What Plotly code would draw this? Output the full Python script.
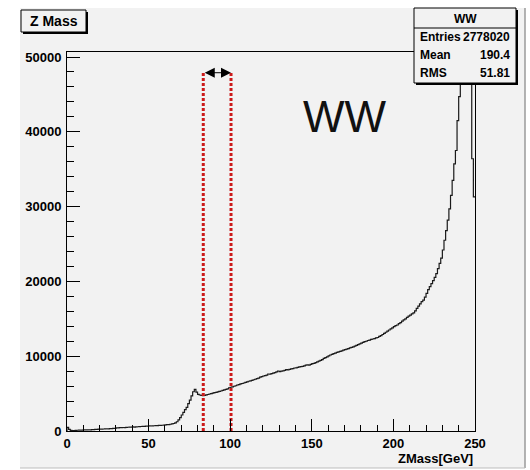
import numpy as np
import plotly.graph_objects as go

# ---------------- data ----------------
bin_width = 1.0  # GeV, histogram 0..250
counts = [
    480, 210, 80, 60, 70, 90, 100, 110, 120, 130,
    140, 150, 150, 170, 160, 180, 190, 230, 220, 240,
    250, 260, 270, 280, 300, 290, 320, 330, 350, 340,
    430, 420, 440, 450, 470, 460, 490, 500, 510, 520,
    540, 530, 560, 570, 590, 600, 610, 630, 640, 660,
    680, 670, 690, 700, 710, 720, 740, 750, 770, 790,
    820, 840, 860, 900, 940, 1000, 1080, 1240, 1500, 1800,
    2140, 2500, 2850, 3170, 3650, 4140, 4700, 5250, 5570, 5200,
    4900, 4810, 4750, 4720, 4760, 4820, 4880, 4950, 4990, 5060,
    5120, 5160, 5230, 5300, 5350, 5420, 5500, 5560, 5630, 5780,
    5850, 5900, 5980, 6050, 6150, 6200, 6300, 6350, 6420, 6500,
    6580, 6650, 6700, 6780, 6850, 6920, 7000, 7080, 7200, 7260,
    7350, 7400, 7480, 7620, 7600, 7680, 7750, 7800, 7900, 8020,
    7950, 8000, 8050, 8100, 8200, 8180, 8250, 8300, 8350, 8420,
    8450, 8500, 8560, 8600, 8650, 8720, 8800, 8850, 8820, 8900,
    9000, 9050, 9150, 9250, 9350, 9450, 9550, 9700, 9800, 9900,
    10050, 10160, 10250, 10350, 10400, 10500, 10580, 10650, 10700, 10800,
    10880, 10950, 11000, 11100, 11180, 11250, 11350, 11450, 11550, 11650,
    11750, 11850, 11940, 12000, 12100, 12150, 12250, 12300, 12350, 12450,
    12500, 12650, 12750, 12900, 13050, 13200, 13350, 13500, 13650, 13800,
    13950, 14100, 14170, 14350, 14500, 14700, 14850, 15000, 15200, 15350,
    15500, 15650, 15800, 16050, 16400, 16700, 17000, 17300, 17500, 17900,
    18400, 18900, 19300, 19700, 20100, 20550, 21050, 21700, 22400, 23100,
    24200, 25500, 26800, 28200, 29700, 31500, 33500, 35700, 37500, 41500,
    44700, 48500, 55000, 60000, 64000, 63000, 58000, 50000, 36400, 31300,
]
x_range = [0, 250]
y_range = [0, 50670]
x_ticks = [0, 50, 100, 150, 200, 250]
y_ticks = [0, 10000, 20000, 30000, 40000, 50000]

cut_low = 83.5
cut_high = 100.5
cut_top = 47900

title_text = "Z Mass"
x_title = "ZMass[GeV]"
label_text = "WW"
stats_name = "WW"
stats_rows = [("Entries", "2778020"), ("Mean", "190.4"), ("RMS", "51.81")]

# ---------------- geometry helpers ----------------
W, H = 530, 470
L, R, T, B = 67, 55, 52, 39
PW, PH = W - L - R, H - T - B


def px(xp):
    return (xp - L) / PW


def py(yp):
    return (H - B - yp) / PH


FONT = "Liberation Sans, Arial, sans-serif"
BG = "#f2f2f2"


def bfont(size):
    return dict(family=FONT, size=size, color="black", weight="bold")


edges = np.arange(len(counts) + 1) * bin_width
xs = [edges[0]] + list(edges)
ys = [0] + list(counts) + [counts[-1]]

fig = go.Figure()
fig.add_trace(go.Scatter(x=xs, y=ys, mode="lines", line=dict(color="#1a1a1a", width=1.2, shape="hv"),
                         hoverinfo="skip", showlegend=False))

for cx in (cut_low, cut_high):
    fig.add_trace(go.Scatter(x=[cx, cx], y=[0, cut_top], mode="lines",
                             line=dict(color="#cc1a1a", width=3, dash="3px,2px"),
                             hoverinfo="skip", showlegend=False))

shapes = []
# canvas pad
shapes.append(dict(type="rect", xref="paper", yref="paper", x0=px(20), x1=px(525), y0=py(468), y1=py(8),
                   fillcolor=BG, line=dict(width=0), layer="below"))
shapes.append(dict(type="line", xref="paper", yref="paper", x0=px(525), x1=px(525), y0=py(468), y1=py(8),
                   line=dict(color="#9a9a9a", width=1.5)))
shapes.append(dict(type="line", xref="paper", yref="paper", x0=px(20), x1=px(525), y0=py(468), y1=py(468),
                   line=dict(color="#bdbdbd", width=1)))
# title box
shapes.append(dict(type="rect", xref="paper", yref="paper", x0=px(21), x1=px(86), y0=py(32), y1=py(10),
                   fillcolor=BG, line=dict(color="black", width=1)))
shapes.append(dict(type="line", xref="paper", yref="paper", x0=px(87), x1=px(87), y0=py(33.5), y1=py(12),
                   line=dict(color="black", width=2)))
shapes.append(dict(type="line", xref="paper", yref="paper", x0=px(23), x1=px(88), y0=py(33), y1=py(33),
                   line=dict(color="black", width=2)))
# stats box
shapes.append(dict(type="rect", xref="paper", yref="paper", x0=px(414), x1=px(516), y0=py(83), y1=py(8),
                   fillcolor=BG, line=dict(color="black", width=1)))
shapes.append(dict(type="line", xref="paper", yref="paper", x0=px(517), x1=px(517), y0=py(84.5), y1=py(10),
                   line=dict(color="black", width=2)))
shapes.append(dict(type="line", xref="paper", yref="paper", x0=px(416), x1=px(518), y0=py(84), y1=py(84),
                   line=dict(color="black", width=2)))
shapes.append(dict(type="line", xref="paper", yref="paper", x0=px(414), x1=px(516), y0=py(28), y1=py(28),
                   line=dict(color="black", width=1)))

annotations = []
annotations.append(dict(xref="paper", yref="paper", x=px(53.5), y=py(21), text=title_text,
                        showarrow=False, xanchor="center", yanchor="middle", font=bfont(14)))
annotations.append(dict(xref="paper", yref="paper", x=1.0, y=py(458), text=x_title,
                        showarrow=False, xanchor="right", yanchor="middle", font=bfont(13)))
annotations.append(dict(xref="paper", yref="paper", x=px(345), y=py(116), text=label_text,
                        showarrow=False, xanchor="center", yanchor="middle",
                        font=dict(family=FONT, size=44, color="#111111")))
annotations.append(dict(xref="paper", yref="paper", x=px(465), y=py(18.5), text=stats_name,
                        showarrow=False, xanchor="center", yanchor="middle", font=bfont(12)))
row_y = [37, 55, 73]
for (k, v), yy in zip(stats_rows, row_y):
    annotations.append(dict(xref="paper", yref="paper", x=px(418), y=py(yy), text=k,
                            showarrow=False, xanchor="left", yanchor="middle", font=bfont(12)))
    annotations.append(dict(xref="paper", yref="paper", x=px(512), y=py(yy), text=v,
                            showarrow=False, xanchor="right", yanchor="middle", font=bfont(12)))
# double arrow
annotations.append(dict(x=cut_high, y=cut_top, ax=cut_low, ay=cut_top, xref="x", yref="y",
                        axref="x", ayref="y", text="", showarrow=True, arrowside="end+start",
                        arrowhead=2, arrowsize=2.0, arrowwidth=1.0, arrowcolor="black"))

tickfont = bfont(13)
fig.update_layout(
    width=W, height=H, autosize=False,
    margin=dict(l=L, r=R, t=T, b=B, pad=0),
    paper_bgcolor="white", plot_bgcolor=BG,
    shapes=shapes, annotations=annotations,
    xaxis=dict(range=x_range, tickvals=x_ticks, showgrid=False, zeroline=False,
               showline=True, linecolor="black", linewidth=1, mirror=True,
               ticks="inside", ticklen=12, tickwidth=1, tickcolor="black",
               minor=dict(ticks="inside", ticklen=6, dtick=10, tickcolor="black", showgrid=False),
               tickfont=tickfont),
    yaxis=dict(range=y_range, tickvals=y_ticks, showgrid=False, zeroline=False,
               showline=True, linecolor="black", linewidth=1, mirror=True,
               ticks="inside", ticklen=13, tickwidth=1, tickcolor="black",
               minor=dict(ticks="inside", ticklen=7, dtick=2000, tickcolor="black", showgrid=False),
               tickformat="d", tickfont=tickfont, ticklabelstandoff=2),
)

fig.write_html("out.html")
